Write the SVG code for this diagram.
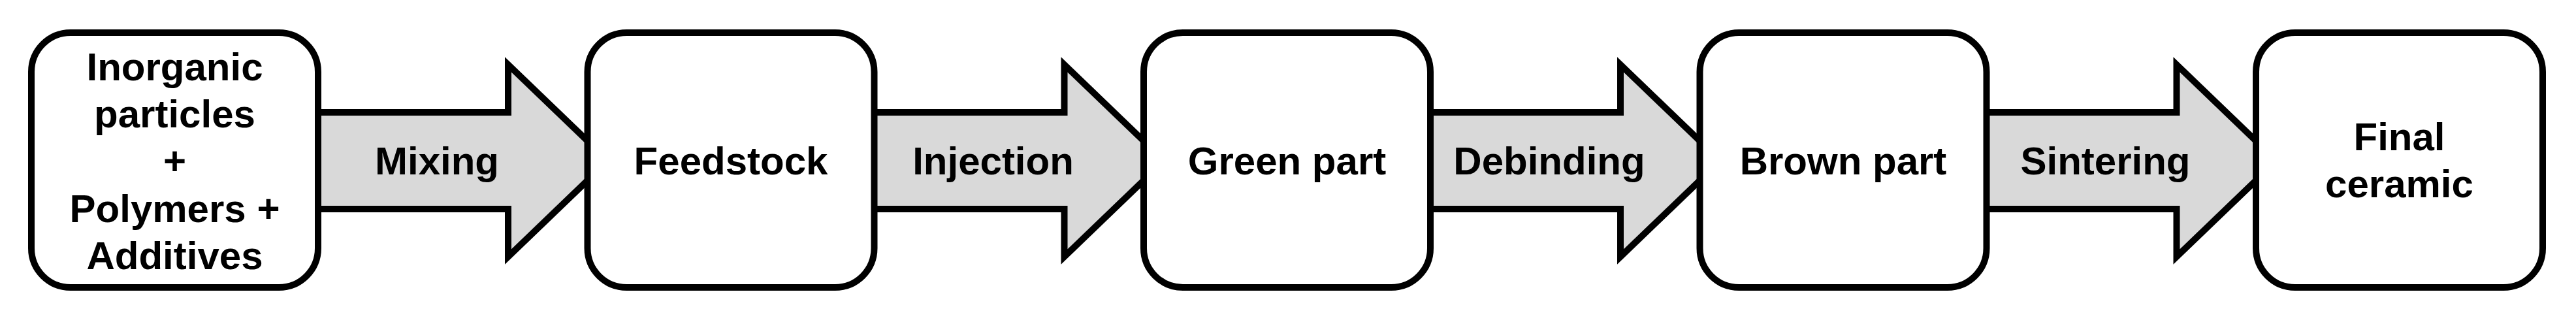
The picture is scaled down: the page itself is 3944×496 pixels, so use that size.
<svg xmlns="http://www.w3.org/2000/svg" width="3944" height="496" viewBox="0 0 3944 496">
<defs>
<style>
.box{fill:#ffffff;stroke:#000000;stroke-width:10}
.arr{fill:#d9d9d9;stroke:#000000;stroke-width:10;stroke-linejoin:miter;stroke-miterlimit:6}
text{font-family:"Liberation Sans",Arial,Helvetica,sans-serif;font-weight:bold;font-size:60px;fill:#000000;text-anchor:middle}
</style>
<polygon id="arrowShape" class="arr" points="-5,172 291,172 291,99 444,246 291,393 291,320 -5,320"/>
</defs>
<rect width="3944" height="496" fill="#ffffff"/>
<g id="connectors">
<g id="arrow-mixing"><use href="#arrowShape" x="487" y="0"/><text x="669" y="267">Mixing</text></g>
<g id="arrow-injection"><use href="#arrowShape" x="1338.5" y="0"/><text x="1520.5" y="267">Injection</text></g>
<g id="arrow-debinding"><use href="#arrowShape" x="2190" y="0"/><text x="2372" y="267">Debinding</text></g>
<g id="arrow-sintering"><use href="#arrowShape" x="3041.5" y="0"/><text x="3223.5" y="267">Sintering</text></g>
</g>
<g id="node-inputs">
<rect class="box" x="48" y="50" width="439" height="390" rx="60" ry="60"/>
<text x="267.5" y="123">Inorganic</text>
<text x="267.5" y="195">particles</text>
<text x="267.5" y="267">+</text>
<text x="267.5" y="340">Polymers +</text>
<text x="267.5" y="412">Additives</text>
</g>
<g id="node-feedstock">
<rect class="box" x="899.5" y="50" width="439" height="390" rx="60" ry="60"/>
<text x="1119" y="267">Feedstock</text>
</g>
<g id="node-green">
<rect class="box" x="1751" y="50" width="439" height="390" rx="60" ry="60"/>
<text x="1970.5" y="267">Green part</text>
</g>
<g id="node-brown">
<rect class="box" x="2602.5" y="50" width="439" height="390" rx="60" ry="60"/>
<text x="2822" y="267">Brown part</text>
</g>
<g id="node-final">
<rect class="box" x="3454" y="50" width="439" height="390" rx="60" ry="60"/>
<text x="3673.5" y="230">Final</text>
<text x="3673.5" y="302">ceramic</text>
</g>
</svg>
